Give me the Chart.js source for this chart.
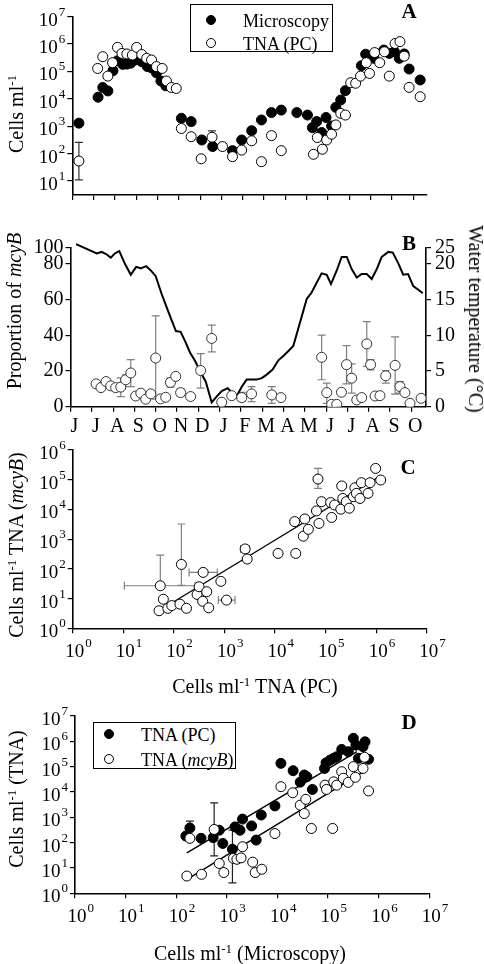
<!DOCTYPE html>
<html>
<head>
<meta charset="utf-8">
<script src="https://cdn.jsdelivr.net/npm/chart.js"></script>
<style>
  body { margin: 0; background: #fff; width: 484px; height: 964px; position: relative; overflow: hidden;
         font-family: 'Liberation Serif', 'Times New Roman', serif; color: #000; }
  canvas { position: absolute; left: 0; }
  .t { position: absolute; white-space: nowrap; font-size: 20px; line-height: 1; transform: translate(-50%, -50%); }
  .rl { transform: translate(-50%, -50%) rotate(-90deg); }
  .rr { transform: translate(-50%, -50%) rotate(90deg); }
  .t sup, .leg sup { font-size: 13px; vertical-align: 7px; line-height: 0; }
  .letter { position: absolute; font-weight: bold; font-size: 21px; line-height: 1; transform: translate(-50%, -50%); }
  .leg { position: absolute; border: 1px solid #000; box-sizing: border-box; background: #fff; font-size: 18px; }
  .leg .dot { position: absolute; width: 10px; height: 10px; border-radius: 50%; border: 1px solid #000; box-sizing: border-box; transform: translate(-50%, -50%); }
  .leg .lab { position: absolute; white-space: nowrap; line-height: 1; transform: translateY(-50%); }
</style>
</head>
<body>
<canvas id="chartA" width="484" height="212" style="top:0px"></canvas>
<canvas id="chartB" width="484" height="238" style="top:212px"></canvas>
<canvas id="chartC" width="484" height="264" style="top:436px"></canvas>
<canvas id="chartD" width="484" height="264" style="top:700px"></canvas>

<!-- axis titles, panel letters, legends -->
<div class="t rl" style="left:16px;top:114px">Cells ml<sup>-1</sup></div>
<div class="letter" style="left:409px;top:11px">A</div>
<div class="leg" style="left:190px;top:4px;width:143px;height:48px">
  <span class="dot" style="left:20px;top:15px;background:#000"></span><span class="lab" style="left:52px;top:16px">Microscopy</span>
  <span class="dot" style="left:20px;top:38px;background:#fff"></span><span class="lab" style="left:52px;top:39px">TNA (PC)</span>
</div>

<div class="t rl" style="left:14px;top:311px">Proportion of <i>mcyB</i></div>
<div class="t rr" style="left:476px;top:319px">Water temperature (°C)</div>
<div class="letter" style="left:409px;top:243px">B</div>

<div class="t rl" style="left:16px;top:545px">Cells ml<sup>-1</sup> TNA (<i>mcyB</i>)</div>
<div class="t" style="left:255px;top:686px">Cells ml<sup>-1</sup> TNA (PC)</div>
<div class="letter" style="left:408px;top:467px">C</div>

<div class="t rl" style="left:16px;top:799px">Cells ml<sup>-1</sup> (TNA)</div>
<div class="t" style="left:250px;top:953px">Cells ml<sup>-1</sup> (Microscopy)</div>
<div class="letter" style="left:409px;top:722px">D</div>
<div class="leg" style="left:93px;top:722px;width:143px;height:47px">
  <span class="dot" style="left:15px;top:11px;background:#000"></span><span class="lab" style="left:47px;top:12px">TNA (PC)</span>
  <span class="dot" style="left:15px;top:36px;background:#fff"></span><span class="lab" style="left:47px;top:37px">TNA (<i>mcyB</i>)</span>
</div>

<script>
// ---- Panel A: cells per ml over time (x = months from June, year 1) ----
const monthLabels = ['J','J','A','S','O','N','D','J','F','M','A','M','J','J','A','S','O'];

const aMicT = [0.31,1.21,1.43,1.67,1.91,2.12,2.37,2.56,2.74,2.95,3.26,3.52,3.72,3.95,4.16,4.39,5.12,5.58,6.08,6.59,7.52,7.95,8.42,8.88,9.35,9.81,10.54,11.04,11.27,11.47,11.71,11.91,12.17,12.37,12.60,12.82,13.57,13.77,14.16,14.62,14.88,15.12,15.35,15.58,15.81,16.33];
const aMic  = [1300,11500,26000,19500,107000,245000,182000,186000,200000,263000,229000,151000,135000,89000,45000,30000,1950,1480,316,182,129,316,690,1700,3160,3890,3160,2570,890,1480,590,2090,1020,4900,9100,20000,162000,427000,302000,603000,457000,525000,302000,437000,123000,49000];

const aTnaT = [0.31,1.19,1.43,1.67,1.89,2.12,2.33,2.56,2.82,3.02,3.26,3.49,3.72,3.95,4.22,4.42,4.65,4.88,5.12,5.58,6.05,6.56,7.05,7.52,7.95,8.42,8.88,9.35,9.81,11.32,11.50,11.74,11.94,12.17,12.37,12.60,12.82,13.07,13.30,13.53,13.80,13.95,14.19,14.43,14.65,14.88,15.15,15.38,15.58,15.81,16.33];
const aTna  = [54,129000,347000,68000,209000,759000,457000,437000,398000,759000,417000,302000,263000,151000,129000,45000,26000,24000,830,417,65,398,182,78,135,295,51,457,129,95,389,145,316,513,1120,2950,2570,38900,37200,67600,209000,85000,490000,209000,525000,67600,1050000,1230000,363000,26300,12000];
const aTnaErr = [[0, 11, 257], [12, 263000, 324000], [21, 398, 676]]; // [index, low, high]
const aYTicks = [1e1, 1e2, 1e3, 1e4, 1e5, 1e6, 1e7];

// ---- Panel B: proportion of mcyB (%) and water temperature (C) ----
const bT    = [1.20,1.43,1.67,1.89,2.12,2.36,2.59,2.83,3.06,3.30,3.53,3.77,4.00,4.23,4.47,4.69,4.94,5.17,5.64,6.11,6.63,7.10,7.57,8.04,8.50,9.45,9.88,11.79,12.03,12.26,12.50,12.72,12.96,13.20,13.44,13.67,13.91,14.09,14.30,14.53,14.80,15.24,15.47,15.70,15.94,16.46];
const bProp = [12.8,10.7,14.1,11.7,10.7,11.0,15.1,18.9,6.0,7.6,4.2,7.2,27.3,4.4,5.3,13.6,17.0,7.9,5.7,20.3,38.3,2.5,6.2,5.1,7.2,6.6,5.1,27.7,7.9,1.3,1.3,8.1,23.6,16.0,3.8,5.1,35.2,23.6,6.0,6.2,17.3,23.2,11.3,7.9,1.9,4.7];
const bPropErr = [[5,5.7,16.2],[6,11.3,17.9],[7,11.3,26.4],[12,4.2,50.9],[15,11,16],[17,5.9,10.2],[19,10.4,29.8],[20,30.7,45.8],[23,3,8],[24,2.8,11.3],[25,1.9,11.3],[27,15.1,40.1],[28,1.9,13.2],[32,12.8,34.3],[33,7.6,24],[36,22.6,47.7],[37,20.7,26.4],[40,13.2,20.3],[41,7.0,39.2],[42,7.6,14.1]];
const bTempT = [0.26,1.23,1.46,1.67,1.89,2.09,2.29,2.56,2.83,3.08,3.30,3.55,3.77,4.00,4.28,4.52,4.75,4.95,5.17,5.38,5.61,5.85,6.08,6.35,6.63,6.86,7.10,7.38,7.60,7.77,8.04,8.27,8.74,8.98,9.21,9.49,9.76,9.99,10.23,10.46,11.09,11.32,11.56,11.79,12.03,12.23,12.50,12.73,12.97,13.20,13.44,13.67,13.91,14.14,14.38,14.61,14.92,15.13,15.39,15.62,15.85,16.09,16.33,16.54];
const bTemp  = [22.8,21.5,21.7,21.4,20.9,21.5,21.8,20.0,18.5,19.6,19.4,19.7,19.1,18.3,15.8,13.9,12.1,10.6,10.5,9.2,7.6,6.4,5.0,3.5,0.6,1.4,2.2,2.6,1.9,1.3,2.8,3.8,3.8,4.0,4.5,5.2,6.5,7.1,7.8,8.5,15.1,16.0,17.4,18.7,18.5,17.2,19.1,21.0,21.0,19.3,18.1,18.6,18.6,17.9,19.3,21.0,21.7,21.6,20.1,18.5,18.6,16.9,16.4,15.9];
const bLeftTicks  = [0, 20, 40, 60, 80, 89];
const bLeftLabels = ['0', '20', '40', '60', '80', '100'];
const bRightTicks  = [0, 5, 10, 15, 20, 22.25];
const bRightLabels = ['0', '5', '10', '15', '20', '25'];

// ---- Panel C: TNA (mcyB) vs TNA (PC) ----
const cPC   = [51,54,62,76,91,132,141,178,288,316,372,380,447,490,851,1100,2570,2820,11500,24500,25700,36300,38900,45700,66100,70800,74100,83200,126000,132000,151000,200000,209000,219000,257000,295000,355000,380000,407000,513000,479000,692000,759000,977000,1230000];
const cMcyB = [3.9,27,9.5,4.7,5.8,6.5,141,4.7,13.8,25,8.1,76,17,4.9,38,8.9,468,214,331,3890,331,1260,4790,2140,8910,105000,3390,18200,17000,5370,14100,10200,61700,23400,18200,11000,26900,53700,34700,79400,23400,34700,79400,240000,97700];
const cYErr = [[1, 27, 288], [6, 28, 3240], [25, 51300, 240000]];
const cXErr = [[1, 10.5, 263], [11, 200, 724], [15, 759, 1620], [16, 2090, 3100]];
const cFitX = [51, 1020000];
const cFitY = [3.9, 112000];
const cXTicks = [1e0, 1e1, 1e2, 1e3, 1e4, 1e5, 1e6, 1e7];
const cYTicks = [1e0, 1e1, 1e2, 1e3, 1e4, 1e5, 1e6];

// ---- Panel D: TNA vs microscopy ----
const dMicPC = [155,186,309,537,708,832,1290,1450,1820,2040,3090,3800,4790,8910,11700,20400,28200,33900,38000,49000,85100,91200,110000,129000,148000,186000,251000,316000,355000,398000,490000,537000,631000];
const dPC    = [182,380,148,158,309,93,55,417,309,851,457,126,1230,2820,135000,69200,24500,46800,39800,12600,85100,141000,182000,214000,245000,479000,389000,1320000,708000,214000,617000,955000,195000];
const dPCErr = [[1, 380, 708], [6, 2.6, 309]];
const dMicMcyB = [162,186,316,562,708,871,1350,1580,2040,1910,3240,3630,4900,8910,11700,20000,28200,33900,36300,46800,87100,93300,123000,129000,148000,186000,200000,251000,316000,347000,490000,525000,631000];
const dMcyB    = [4.8,148,5.6,331,15,6.6,24,22,69,25,17,6.6,8.9,229,16200,9300,3020,1410,5130,363,18600,12600,363,25100,18600,63100,34700,24000,100000,38000,85100,234000,11000];
const dMcyBErr = [[3, 30, 3720]];
const dFitPCX = [162, 372000];
const dFitPCY = [39.8, 389000];
const dFitMcyBX = [155, 575000];
const dFitMcyBY = [3.3, 74100];
const dYTicks = [1e0, 1e1, 1e2, 1e3, 1e4, 1e5, 1e6, 1e7];

const FONT = "'Liberation Serif', 'Times New Roman', serif";

function pts(xs, ys) {
  return xs.map((x, i) => ({ x: x, y: ys[i] }));
}

// Draw "10" with a superscript exponent at each tick of a log axis
const powerLabels = {
  id: 'powerLabels',
  afterDraw(chart) {
    const ctx = chart.ctx;
    ctx.save();
    ctx.fillStyle = '#000';
    ctx.textAlign = 'left';
    ctx.textBaseline = 'alphabetic';
    Object.values(chart.scales).forEach(s => {
      if (s.type !== 'logarithmic') return;
      s.ticks.forEach(t => {
        const exp = String(Math.round(Math.log10(t.value)));
        const pos = s.getPixelForValue(t.value);
        ctx.font = '19px ' + FONT;
        const w1 = ctx.measureText('10').width;
        ctx.font = '13px ' + FONT;
        const w2 = ctx.measureText(exp).width;
        let x, y;
        if (s.isHorizontal()) {
          x = pos - w1 / 2 + 2;
          y = s.top + 29;
        } else {
          x = s.right - 8 - w2 - w1;
          y = pos + 9;
        }
        ctx.font = '19px ' + FONT;
        ctx.fillText('10', x, y);
        ctx.font = '13px ' + FONT;
        ctx.fillText(exp, x + w1 + 1, y - 10);
      });
    });
    ctx.restore();
  }
};

// Error bars behind the points; lists hold [index, low, high]
const errorBars = {
  id: 'errorBars',
  beforeDatasetsDraw(chart) {
    const ctx = chart.ctx;
    chart.data.datasets.forEach(ds => {
      if (!ds.yErr && !ds.xErr) return;
      const xs = chart.scales[ds.xAxisID || 'x'];
      const ys = chart.scales[ds.yAxisID || 'y'];
      ctx.save();
      ctx.strokeStyle = ds.errColor || '#000';
      ctx.lineWidth = 1.2;
      ctx.beginPath();
      (ds.yErr || []).forEach(([i, lo, hi]) => {
        const px = xs.getPixelForValue(ds.data[i].x);
        const y1 = ys.getPixelForValue(lo), y2 = ys.getPixelForValue(hi);
        ctx.moveTo(px, y1); ctx.lineTo(px, y2);
        ctx.moveTo(px - 4, y1); ctx.lineTo(px + 4, y1);
        ctx.moveTo(px - 4, y2); ctx.lineTo(px + 4, y2);
      });
      (ds.xErr || []).forEach(([i, lo, hi]) => {
        const py = ys.getPixelForValue(ds.data[i].y);
        const x1 = xs.getPixelForValue(lo), x2 = xs.getPixelForValue(hi);
        ctx.moveTo(x1, py); ctx.lineTo(x2, py);
        ctx.moveTo(x1, py - 4); ctx.lineTo(x1, py + 4);
        ctx.moveTo(x2, py - 4); ctx.lineTo(x2, py + 4);
      });
      ctx.stroke();
      ctx.restore();
    });
  }
};

const axisLine = { display: true, color: '#000', width: 1.6 };
const tickMarks = { display: true, drawOnChartArea: false, drawTicks: true, tickLength: 5, color: '#000', lineWidth: 1.2 };

function logAxis(min, max, tickVals, size, position) {
  return {
    type: 'logarithmic', position: position, min: min, max: max,
    border: axisLine, grid: tickMarks,
    ticks: { display: false },
    afterBuildTicks: s => { s.ticks = tickVals.map(v => ({ value: v })); },
    afterFit: s => { if (s.isHorizontal()) s.height = size; else s.width = size; }
  };
}

function monthAxis(showLabels, max) {
  return {
    type: 'linear', position: 'bottom', min: 0, max: max,
    border: axisLine, grid: tickMarks,
    afterBuildTicks: s => { s.ticks = monthLabels.map((m, i) => ({ value: i })); },
    ticks: {
      display: showLabels, autoSkip: false, maxRotation: 0, minRotation: 0,
      labelOffset: 4, padding: 3, color: '#000', font: { family: FONT, size: 20 },
      callback: (v, i) => monthLabels[i]
    },
    afterFit: s => { s.height = showLabels ? 32 : 8; }
  };
}

function linAxis(position, tickVals, labels, size, pad) {
  return {
    type: 'linear', position: position, min: 0, max: tickVals[tickVals.length - 1],
    border: axisLine, grid: tickMarks,
    afterBuildTicks: s => { s.ticks = tickVals.map(v => ({ value: v })); },
    ticks: { color: '#000', padding: pad, font: { family: FONT, size: 20 }, callback: (v, i) => labels[i] },
    afterFit: s => { s.width = size; }
  };
}

function baseOptions(padding, scales) {
  return {
    responsive: false, animation: false, devicePixelRatio: 1, events: [],
    layout: { padding: padding, autoPadding: false },
    plugins: { legend: { display: false }, tooltip: { enabled: false } },
    scales: scales
  };
}

const openPt = { pointRadius: 5, pointBackgroundColor: '#fff', pointBorderColor: '#000', pointBorderWidth: 1, backgroundColor: '#fff', borderColor: '#000' };
const filledPt = { pointRadius: 5, pointBackgroundColor: '#000', pointBorderColor: '#000', pointBorderWidth: 1, backgroundColor: '#000', borderColor: '#000' };
const fitLine = { showLine: true, pointRadius: 0, borderColor: '#000', borderWidth: 1.4, fill: false };

// Panel A
new Chart(document.getElementById('chartA'), {
  type: 'scatter',
  data: {
    datasets: [
      Object.assign({ label: 'TNA (PC)', data: pts(aTnaT, aTna), yErr: aTnaErr, errColor: '#333', order: 0 }, openPt),
      Object.assign({ label: 'Microscopy', data: pts(aMicT, aMic), order: 1 }, filledPt)
    ]
  },
  options: baseOptions({ left: 0, right: 57, top: 16.7, bottom: 9 }, {
    x: monthAxis(false, 16.65),
    y: logAxis(3.1, 1e7, aYTicks, 72.3, 'left')
  }),
  plugins: [powerLabels, errorBars]
});

// Panel B
new Chart(document.getElementById('chartB'), {
  type: 'scatter',
  data: {
    datasets: [
      Object.assign({ label: 'Proportion of mcyB', data: pts(bT, bProp), yErr: bPropErr, errColor: '#808080', order: 0 }, openPt, { pointBorderColor: '#333', pointRadius: 5 }),
      { label: 'Water temperature', data: pts(bTempT, bTemp), yAxisID: 'y2', showLine: true, pointRadius: 0, borderColor: '#000', borderWidth: 2, clip: false, order: 1 }
    ]
  },
  options: baseOptions({ left: 0, right: 18, top: 36, bottom: 11.3 }, {
    x: monthAxis(true, 16.69),
    y: linAxis('left', bLeftTicks, bLeftLabels, 70.5, 2),
    y2: linAxis('right', bRightTicks, bRightLabels, 40, 4)
  }),
  plugins: [errorBars]
});

// Panel C
new Chart(document.getElementById('chartC'), {
  type: 'scatter',
  data: {
    datasets: [
      Object.assign({ label: 'TNA', data: pts(cPC, cMcyB), yErr: cYErr, xErr: cXErr, errColor: '#808080', order: 0 }, openPt),
      Object.assign({ label: 'fit', data: pts(cFitX, cFitY), order: 1 }, fitLine)
    ]
  },
  options: baseOptions({ left: 0, right: 57.3, top: 14, bottom: 31.7 }, {
    x: logAxis(1, 1e7, cXTicks, 40, 'bottom'),
    y: logAxis(1, 1e6, cYTicks, 72.7, 'left')
  }),
  plugins: [powerLabels, errorBars]
});

// Panel D
new Chart(document.getElementById('chartD'), {
  type: 'scatter',
  data: {
    datasets: [
      Object.assign({ label: 'TNA (mcyB)', data: pts(dMicMcyB, dMcyB), yErr: dMcyBErr, errColor: '#222', order: 0 }, openPt),
      Object.assign({ label: 'TNA (PC)', data: pts(dMicPC, dPC), yErr: dPCErr, errColor: '#222', order: 1 }, filledPt),
      Object.assign({ label: 'fit PC', data: pts(dFitPCX, dFitPCY), order: 2 }, fitLine),
      Object.assign({ label: 'fit mcyB', data: pts(dFitMcyBX, dFitMcyBY), order: 2 }, fitLine)
    ]
  },
  options: baseOptions({ left: 0, right: 54.7, top: 16, bottom: 30.7 }, {
    x: logAxis(1, 1e7, cXTicks, 40, 'bottom'),
    y: logAxis(1, 1e7, dYTicks, 75, 'left')
  }),
  plugins: [powerLabels, errorBars]
});
</script>
</body>
</html>
